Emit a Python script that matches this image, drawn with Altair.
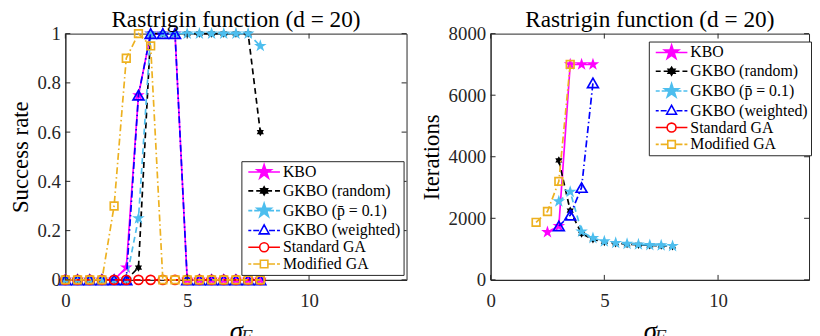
import altair as alt
import pandas as pd

# ---------------- data ----------------
sigma = [0, 0.5, 1, 1.5, 2, 2.5, 3, 3.5, 4, 4.5, 5, 5.5, 6, 6.5, 7, 7.5, 8]
series_names = ["KBO", "GKBO (random)", "GKBO (p̄ = 0.1)", "GKBO (weighted)",
                "Standard GA", "Modified GA"]

# success rate (left panel)
sr_kbo = [0, 0, 0, 0, 0, 0.05, 0.75, 1, 1, 1, 0, 0, 0, 0, 0, 0, 0]
sr_random = [0, 0, 0, 0, 0, 0, 0.05, 1, 1, 1, 1, 1, 1, 1, 1, 1, 0.6]
sr_p01 = [0, 0, 0, 0, 0, 0, 0.25, 1, 1, 1, 1, 1, 1, 1, 1, 1, 0.95]
sr_weighted = [0, 0, 0, 0, 0, 0, 0.75, 1, 1, 1, 0, 0, 0, 0, 0, 0, 0]
sr_std = [0, 0, 0, 0, 0, 0, 0, 0, 0, 0, 0, 0, 0, 0, 0, 0, 0]
sr_mod = [0, 0, 0, 0, 0.3, 0.9, 1, 0.95, 0, 0, 0, 0, 0, 0, 0, 0, 0]

# iterations (right panel)
it_x_kbo = [2.5, 3, 3.5, 4, 4.5]
it_kbo = [1550, 1750, 7000, 7000, 7000]
it_x_random = [3, 3.5, 4, 4.5, 5, 5.5, 6, 6.5, 7, 7.5, 8]
it_random = [3880, 2250, 1500, 1320, 1230, 1190, 1160, 1140, 1120, 1110, 1090]
it_x_p01 = [3, 3.5, 4, 4.5, 5, 5.5, 6, 6.5, 7, 7.5, 8]
it_p01 = [2550, 2860, 1570, 1360, 1250, 1200, 1170, 1150, 1130, 1120, 1100]
it_x_weighted = [3, 3.5, 4, 4.5]
it_weighted = [1750, 2100, 3000, 6400]
it_x_std = []
it_std = []
it_x_mod = [2, 2.5, 3, 3.5]
it_mod = [1870, 2220, 3200, 7000]

x_ticks = [0, 5, 10]
sr_ticks = [0, 0.2, 0.4, 0.6, 0.8, 1]
it_ticks = [0, 2000, 4000, 6000, 8000]

# ---------------- styles ----------------
FONT = "Liberation Serif"
AX = "#262626"
colors = ["#FF00FF", "#000000", "#4DBEEE", "#0000FF", "#FF0000", "#EDB120"]
dashes = [[1, 0], [6, 4], [6, 4], [7, 3, 1.5, 3], [6, 4], [7, 3, 1.5, 3]]

STAR = ("M0,-1L0.225,-0.309L0.951,-0.309L0.363,0.118L0.588,0.809L0,0.382"
        "L-0.588,0.809L-0.363,0.118L-0.951,-0.309L-0.225,-0.309Z")
HEX = ("M0,-1L0.289,-0.5L0.866,-0.5L0.577,0L0.866,0.5L0.289,0.5L0,1L-0.289,0.5"
       "L-0.866,0.5L-0.577,0L-0.866,-0.5L-0.289,-0.5Z")
shapes = [STAR, HEX, STAR, "triangle-up", "circle", "square"]
sizes = [180, 70, 180, 120, 85, 60]
filled = [True, True, True, False, False, False]


def star_px(r):
    pts = [(0, -1), (0.225, -0.309), (0.951, -0.309), (0.363, 0.118), (0.588, 0.809),
           (0, 0.382), (-0.588, 0.809), (-0.363, 0.118), (-0.951, -0.309), (-0.225, -0.309)]
    return "M" + "L".join(f"{x*r:.2f},{y*r:.2f}" for x, y in pts) + "Z"


def hex_px(r):
    pts = [(0, -1), (0.289, -0.5), (0.866, -0.5), (0.577, 0), (0.866, 0.5), (0.289, 0.5),
           (0, 1), (-0.289, 0.5), (-0.866, 0.5), (-0.577, 0), (-0.866, -0.5), (-0.289, -0.5)]
    return "M" + "L".join(f"{x*r:.2f},{y*r:.2f}" for x, y in pts) + "Z"


def segs(pairs):
    return "".join(f"M{a},0L{b},0" for a, b in pairs)


legend_paths = [
    segs([(-16, 16)]) + star_px(7.5),
    segs([(-16, -11), (-8, -3), (3, 8), (11, 16)]) + hex_px(4),
    segs([(-16, -12), (-10, -5), (5, 10), (12, 16)]) + star_px(7.5),
    segs([(-16, -13), (-11, -5), (5, 11), (13, 16)]) + "M0,-5.5L5,3.5L-5,3.5Z",
    segs([(-16, -5), (5, 16)]) + "M-4.5,0A4.5,4.5 0 1,0 4.5,0A4.5,4.5 0 1,0 -4.5,0Z",
    segs([(-16, -13), (-11, -4), (4, 11), (13, 16)]) + "M-3.8,-3.8L3.8,-3.8L3.8,3.8L-3.8,3.8Z",
]
legend_fills = ["#FF00FF", "#000000", "#4DBEEE", "transparent", "transparent", "transparent"]


def panel(series, ydomain, yticks, yfmt, ytitle, W, H, lx, ly):
    xscale = alt.Scale(domain=[0, 14], nice=False, zero=False)
    yscale = alt.Scale(domain=ydomain, nice=False, zero=False)
    xaxis = alt.Axis(values=x_ticks, title="σ", titleFontStyle="italic", titleFontSize=27,
                     titlePadding=8, labelPadding=12, labelFlush=False, format="d")
    yaxis = alt.Axis(values=yticks, title=ytitle, format=yfmt, labelPadding=5,
                     titlePadding=5)
    layers = []
    for i, (xs, ys) in enumerate(series):
        if not xs:
            continue
        df = pd.DataFrame({"x": xs, "y": ys})
        base = alt.Chart(df).encode(
            x=alt.X("x:Q", scale=xscale, axis=xaxis),
            y=alt.Y("y:Q", scale=yscale, axis=yaxis),
        )
        layers.append(base.mark_line(color=colors[i], strokeDash=dashes[i], strokeWidth=1.7))
        layers.append(base.mark_point(shape=shapes[i], size=sizes[i], filled=filled[i],
                                      color=colors[i], opacity=1, strokeWidth=1.7))
    # inward ticks
    ydf = pd.DataFrame({"y": yticks})
    xdf = pd.DataFrame({"x": x_ticks})
    yenc = alt.Y("y:Q", scale=yscale, axis=yaxis)
    xenc = alt.X("x:Q", scale=xscale, axis=xaxis)
    layers.append(alt.Chart(ydf).mark_rule(color=AX, strokeWidth=1).encode(
        y=yenc, x=alt.value(0), x2=alt.value(5)))
    layers.append(alt.Chart(ydf).mark_rule(color=AX, strokeWidth=1).encode(
        y=yenc, x=alt.value(W - 5), x2=alt.value(W)))
    layers.append(alt.Chart(xdf).mark_rule(color=AX, strokeWidth=1).encode(
        x=xenc, y=alt.value(H - 5), y2=alt.value(H)))
    layers.append(alt.Chart(xdf).mark_rule(color=AX, strokeWidth=1).encode(
        x=xenc, y=alt.value(0), y2=alt.value(5)))
    # subscript of the x title
    layers.append(alt.Chart(pd.DataFrame({"t": ["F"]})).mark_text(
        text="F", font=FONT, fontSize=19, fontStyle="italic", align="left",
        baseline="alphabetic", color=AX).encode(
        x=alt.value(W / 2 + 5), y=alt.value(H + 64)))
    # legend layer (no visible marks)
    leg = alt.Legend(title=None, orient="none", legendX=lx, legendY=ly,
                     strokeColor=AX, fillColor="white", padding=3,
                     labelFont=FONT, labelFontSize=16, labelColor="#000",
                     symbolSize=4, symbolStrokeWidth=1.6, symbolOffset=12,
                     labelOffset=11, rowPadding=1, cornerRadius=0)
    ldf = pd.DataFrame({"series": series_names, "x": [0] * 6, "y": [0] * 6})
    layers.append(alt.Chart(ldf).transform_filter("false").mark_point(
        filled=False, opacity=1, strokeWidth=1.6).encode(
        x=xenc, y=yenc,
        color=alt.Color("series:N", scale=alt.Scale(domain=series_names, range=colors), legend=leg),
        fill=alt.Fill("series:N", scale=alt.Scale(domain=series_names, range=legend_fills), legend=leg),
        shape=alt.Shape("series:N", scale=alt.Scale(domain=series_names, range=legend_paths), legend=leg),
    ))
    return alt.layer(*layers).properties(
        width=W, height=H,
        title=alt.TitleParams("Rastrigin function (d = 20)", font=FONT, fontSize=23.5,
                              fontWeight="normal", color="#000", offset=-7, frame="group"))


left_series = [(sigma, sr_kbo), (sigma, sr_random), (sigma, sr_p01), (sigma, sr_weighted),
               (sigma, sr_std), (sigma, sr_mod)]
right_series = [(it_x_kbo, it_kbo), (it_x_random, it_random), (it_x_p01, it_p01),
                (it_x_weighted, it_weighted), (it_x_std, it_std), (it_x_mod, it_mod)]

left = panel(left_series, [0, 1], sr_ticks, ".1~f", "Success rate", 345, 249, 178, 129)
right = panel(right_series, [0, 8000], it_ticks, "d", "Iterations", 322, 249, 160, 8)

chart = alt.hconcat(left, right, spacing=12).resolve_scale(
    x="independent", y="independent", color="independent", fill="independent",
    shape="independent").resolve_legend(
    color="independent", fill="independent", shape="independent").properties(
    padding={"left": 0, "top": -2, "right": 0, "bottom": 0}
).configure_view(stroke=AX, strokeWidth=1).configure_axis(
    grid=False, ticks=False, tickSize=0, domainColor=AX, labelColor=AX, titleColor="#000",
    labelFont=FONT, titleFont=FONT, labelFontSize=19, titleFontSize=23,
    titleFontWeight="normal", labelOverlap=False)

chart.save("out.html", embed_options={"renderer": "svg", "actions": False})
